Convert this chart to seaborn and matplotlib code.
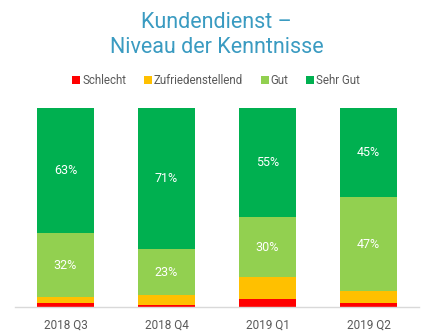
import matplotlib
matplotlib.use("Agg")
import matplotlib.pyplot as plt
import seaborn as sns
import pandas as pd
import numpy as np
from matplotlib.lines import Line2D

categories = ["2018 Q3", "2018 Q4", "2019 Q1", "2019 Q2"]
series = ["Schlecht", "Zufriedenstellend", "Gut", "Sehr Gut"]
schlecht = [2, 1, 4, 2]
zufrieden = [3, 5, 11, 6]
gut = [32, 23, 30, 47]
sehr_gut = [63, 71, 55, 45]
colors = ["#ff0000", "#ffc000", "#92d050", "#00b050"]
labeled = ["Gut", "Sehr Gut"]

sns.set_theme(style="white")
plt.rcParams["font.family"] = ["Roboto", "DejaVu Sans"]

values = {"Schlecht": schlecht, "Zufriedenstellend": zufrieden, "Gut": gut, "Sehr Gut": sehr_gut}
df = pd.DataFrame(values, index=categories)
cum = df.cumsum(axis=1)

fig = plt.figure(figsize=(4.33, 3.36), dpi=100)
ax = fig.add_axes([0.0346, 0.0863, 0.933, 0.5927])

for s, c in zip(reversed(series), reversed(colors)):
    d = pd.DataFrame({"cat": categories, "val": cum[s].values})
    sns.barplot(data=d, x="cat", y="val", color=c, width=0.56, ax=ax,
                saturation=1, linewidth=0, order=categories)

for s in labeled:
    for i, cat in enumerate(categories):
        top = cum.loc[cat, s]
        v = df.loc[cat, s]
        ax.text(i, top - v / 2, f"{v}%", ha="center", va="center",
                color="white", fontsize=9)

ax.set_ylim(0, 100)
ax.set_xlim(-0.5, 3.5)
ax.set_xlabel("")
ax.set_ylabel("")
ax.set_yticks([])
for sp in ["top", "left", "right"]:
    ax.spines[sp].set_visible(False)
ax.spines["bottom"].set_color("#d9d9d9")
ax.spines["bottom"].set_linewidth(1)
ax.tick_params(axis="x", length=0, pad=8, labelsize=8.5, labelcolor="#595959")

fig.text(0.5, 1 - 35 / 336, "Kundendienst –\nNiveau der Kenntnisse", ha="center",
         va="center", fontsize=15.5, color="#3a9bc1", linespacing=1.3)

handles = [Line2D([0], [0], marker="s", linestyle="", markersize=5.5,
                  markerfacecolor=c, markeredgewidth=0) for c in colors]
fig.legend(handles, series, loc="center", bbox_to_anchor=(0.5, 1 - 81 / 336),
           ncol=4, frameon=False, fontsize=8.3, handlelength=0.6, handletextpad=0.2,
           columnspacing=1.6, labelcolor="#595959")

fig.savefig("out.png", dpi=100)
